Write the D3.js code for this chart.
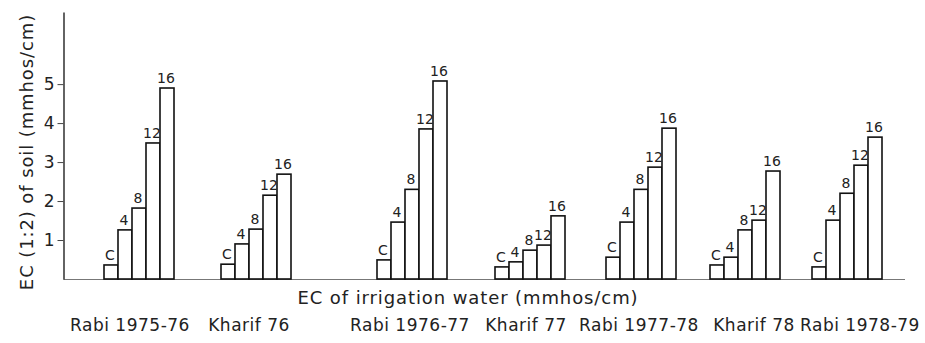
<!DOCTYPE html>
<html><head><meta charset="utf-8">
<script src="https://cdn.jsdelivr.net/npm/d3@7"></script>
<style>
html,body{margin:0;padding:0;background:#fff;}
svg{display:block;font-family:"DejaVu Sans",sans-serif;}
</style>
</head><body>
<svg id="chart" width="925" height="343"></svg>
<script>
// ---- data ----
const seasons = ["Rabi 1975-76","Kharif 76","Rabi 1976-77","Kharif 77","Rabi 1977-78","Kharif 78","Rabi 1978-79"];
const levels = ["C","4","8","12","16"];
const rabi1975 = [0.36,1.26,1.82,3.49,4.90];
const kharif76 = [0.38,0.90,1.28,2.15,2.69];
const rabi1976 = [0.49,1.46,2.30,3.85,5.08];
const kharif77 = [0.31,0.44,0.74,0.87,1.62];
const rabi1977 = [0.56,1.46,2.30,2.87,3.87];
const kharif78 = [0.36,0.56,1.26,1.51,2.77];
const rabi1978 = [0.31,1.51,2.20,2.92,3.64];
const yTicks = [1,2,3,4,5];
const yTitle = "EC (1:2) of soil (mmhos/cm)";
const xTitle = "EC of irrigation water (mmhos/cm)";

const seriesBySeason = [rabi1975,kharif76,rabi1976,kharif77,rabi1977,kharif78,rabi1978];
const table = [];
seasons.forEach((s,i)=>levels.forEach((l,j)=>table.push({season:s, level:l, value:seriesBySeason[i][j]})));

// ---- layout ----
const svg = d3.select("#chart");
const axisX = 63.5, baseY = 279, topY = 12;
const y = d3.scaleLinear().domain([0, 6.85]).range([baseY, topY]);
const groupLeft = d3.scaleOrdinal().domain(seasons).range([104,221,377,495,606,710,812]);
const labelCenter = d3.scaleOrdinal().domain(seasons).range([130,249,410,526,639,754,860]);
const groupWidth = 70;
const inner = d3.scaleBand().domain(levels).range([0, groupWidth]).padding(0);

// baseline
svg.append("line")
  .attr("x1", axisX).attr("x2", 905)
  .attr("y1", y(0)+0.5).attr("y2", y(0)+0.5)
  .attr("stroke", "#777").attr("stroke-width", 1.2);

// y axis
const yAxis = d3.axisLeft(y).tickValues(yTicks).tickSize(6).tickSizeOuter(0).tickPadding(3).tickFormat(d3.format("d"));
const ga = svg.append("g").attr("transform", `translate(${axisX},0)`).call(yAxis);
ga.select(".domain").attr("stroke", "#222").attr("stroke-width", 1.4);
ga.selectAll(".tick line").attr("stroke", "#444").attr("stroke-width", 1);
ga.selectAll(".tick text").attr("font-size", 17).attr("fill", "#222")
  .attr("font-family", "'DejaVu Sans', sans-serif");

// bars
const bars = svg.append("g");
bars.selectAll("rect").data(table).join("rect")
  .attr("x", d => groupLeft(d.season) + inner(d.level))
  .attr("y", d => y(d.value))
  .attr("width", inner.bandwidth())
  .attr("height", d => y(0) - y(d.value))
  .attr("fill", "#fff").attr("stroke", "#111").attr("stroke-width", 1.6);

bars.selectAll("text").data(table).join("text")
  .attr("x", d => groupLeft(d.season) + inner(d.level) + inner.bandwidth()/2 - 1)
  .attr("y", d => y(d.value) - 5)
  .attr("text-anchor", "middle")
  .attr("font-size", 14).attr("fill", "#222")
  .text(d => d.level);

// season labels
svg.append("g").selectAll("text").data(seasons).join("text")
  .attr("x", d => labelCenter(d))
  .attr("y", 331)
  .attr("text-anchor", "middle")
  .attr("font-size", 17).attr("letter-spacing", 0.5).attr("fill", "#222")
  .text(d => d);

// axis titles
svg.append("text")
  .attr("x", 468).attr("y", 304)
  .attr("text-anchor", "middle")
  .attr("font-size", 18).attr("letter-spacing", 0.9).attr("fill", "#222")
  .text(xTitle);

svg.append("text")
  .attr("transform", "translate(33,152) rotate(-90)")
  .attr("text-anchor", "middle")
  .attr("font-size", 18).attr("letter-spacing", 0.9).attr("fill", "#222")
  .text(yTitle);
</script>
</body></html>
